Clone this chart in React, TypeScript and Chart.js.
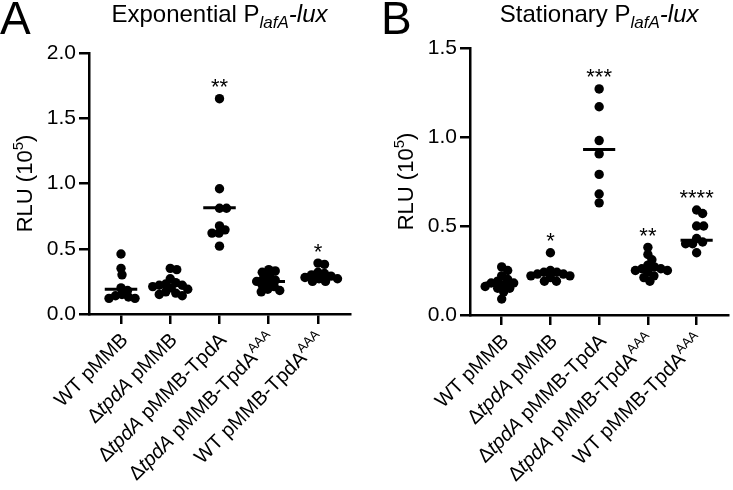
import React, { useEffect, useRef } from 'react';
import { Chart, registerables } from 'chart.js';
Chart.register(...registerables);

const FONT = '"Liberation Sans", Arial, Helvetica, sans-serif';
const H = 490;

// Category labels: *...* = italic, ^... = superscript
const categories = [
  'WT pMMB',
  'Δ*tpdA* pMMB',
  'Δ*tpdA* pMMB-TpdA',
  'Δ*tpdA* pMMB-TpdA^AAA',
  'WT pMMB-TpdA^AAA',
];

// ---- Panel A: Exponential (RLU, 10^5) ----
const expWT = [0.46, 0.35, 0.30, 0.20, 0.18, 0.15, 0.14, 0.13, 0.12, 0.12];
const expDelta = [0.35, 0.34, 0.27, 0.24, 0.23, 0.22, 0.22, 0.21, 0.20, 0.19, 0.17, 0.16, 0.15, 0.14];
const expComp = [1.65, 0.96, 0.81, 0.81, 0.675, 0.645, 0.62, 0.62, 0.52];
const expDeltaAAA = [0.34, 0.33, 0.32, 0.29, 0.27, 0.26, 0.25, 0.24, 0.22, 0.21, 0.19, 0.18, 0.17];
const expWTAAA = [0.39, 0.38, 0.32, 0.31, 0.30, 0.29, 0.28, 0.27, 0.27, 0.25, 0.25];
const expLines = [0.19, 0.22, 0.815, 0.25, 0.29];
const expStars = ['', '', '**', '', '*'];
const expTicks = [0, 0.5, 1.0, 1.5, 2.0];

// ---- Panel B: Stationary (RLU, 10^5) ----
const statWT = [0.27, 0.25, 0.22, 0.20, 0.19, 0.18, 0.18, 0.17, 0.16, 0.15, 0.15, 0.13, 0.09];
const statDelta = [0.35, 0.25, 0.24, 0.24, 0.23, 0.23, 0.22, 0.22, 0.21, 0.19, 0.19];
const statComp = [1.27, 1.17, 0.98, 0.905, 0.79, 0.68, 0.63];
const statDeltaAAA = [0.38, 0.34, 0.31, 0.28, 0.27, 0.26, 0.26, 0.25, 0.25, 0.24, 0.22, 0.21, 0.19];
const statWTAAA = [0.59, 0.57, 0.50, 0.50, 0.43, 0.41, 0.40, 0.40, 0.35];
const statLines = [0.18, 0.235, 0.93, 0.26, 0.42];
const statStars = ['', '*', '***', '**', '****'];
const statTicks = [0, 0.5, 1.0, 1.5];

type Seg = { t: string; font: string; dy: number };

function parseLabel(s: string, size: number): Seg[] {
  const parts = s.split(/(\*[^*]+\*|\^[A-Za-z0-9]+)/).filter((p) => p.length);
  return parts.map((p) => {
    if (p.startsWith('*')) return { t: p.slice(1, -1), font: `italic ${size}px ${FONT}`, dy: 0 };
    if (p.startsWith('^')) return { t: p.slice(1), font: `${Math.round(size * 0.66)}px ${FONT}`, dy: -size * 0.42 };
    return { t: p, font: `${size}px ${FONT}`, dy: 0 };
  });
}

function richWidth(ctx: CanvasRenderingContext2D, segs: Seg[]) {
  let w = 0;
  for (const s of segs) {
    ctx.font = s.font;
    w += ctx.measureText(s.t).width;
  }
  return w;
}

function drawRich(ctx: CanvasRenderingContext2D, segs: Seg[], x: number, y: number, align: 'left' | 'center' | 'right') {
  const w = richWidth(ctx, segs);
  let cx = align === 'left' ? x : align === 'center' ? x - w / 2 : x - w;
  ctx.textAlign = 'left';
  ctx.textBaseline = 'alphabetic';
  for (const s of segs) {
    ctx.font = s.font;
    ctx.fillText(s.t, cx, y + s.dy);
    cx += ctx.measureText(s.t).width;
  }
}

type PanelCfg = {
  letter: string;
  letterX: number;
  titleMain: string;
  groups: number[][];
  lines: number[];
  stars: string[];
  ticks: number[];
  width: number;
  chartLeft: number;
  padRight: number;
  top: number;
  bottom: number;
  yTitleX: number;
};

function Panel({ cfg }: { cfg: PanelCfg }) {
  const ref = useRef<HTMLCanvasElement | null>(null);
  useEffect(() => {
    const canvas = ref.current!;
    const annot = {
      id: 'annot',
      afterDraw(chart: any) {
        const ctx: CanvasRenderingContext2D = chart.ctx;
        const ca = chart.chartArea;
        const xs = chart.scales.x;
        const ys = chart.scales.y;
        ctx.save();
        ctx.fillStyle = '#000';
        // panel letter
        ctx.font = `46px ${FONT}`;
        ctx.textAlign = 'left';
        ctx.textBaseline = 'alphabetic';
        ctx.fillText(cfg.letter, cfg.letterX, 34);
        // title
        drawRich(
          ctx,
          [
            { t: cfg.titleMain + ' P', font: `24px ${FONT}`, dy: 0 },
            { t: 'lafA', font: `italic 17px ${FONT}`, dy: 6 },
            { t: '-lux', font: `italic 24px ${FONT}`, dy: 0 },
          ],
          (ca.left + ca.right) / 2,
          22,
          'center'
        );
        // y title
        ctx.save();
        ctx.translate(cfg.yTitleX, (ca.top + ca.bottom) / 2);
        ctx.rotate(-Math.PI / 2);
        drawRich(
          ctx,
          [
            { t: 'RLU (10', font: `22px ${FONT}`, dy: 0 },
            { t: '5', font: `15px ${FONT}`, dy: -9 },
            { t: ')', font: `22px ${FONT}`, dy: 0 },
          ],
          0,
          0,
          'center'
        );
        ctx.restore();
        // x labels
        categories.forEach((c, i) => {
          const px = xs.getPixelForValue(i);
          ctx.save();
          ctx.translate(px + 8, ca.bottom + 27);
          ctx.rotate(-Math.PI / 4);
          drawRich(ctx, parseLabel(c, 20), 0, 0, 'right');
          ctx.restore();
        });
        // significance stars
        cfg.stars.forEach((s, i) => {
          if (!s) return;
          const px = xs.getPixelForValue(i);
          const top = ys.getPixelForValue(Math.max(...cfg.groups[i]));
          ctx.font = `22px ${FONT}`;
          ctx.textAlign = 'center';
          ctx.textBaseline = 'alphabetic';
          ctx.fillText(s, px, top - 17 + 12.5);
        });
        ctx.restore();
      },
    };

    const lineSets = cfg.lines.map((m, i) => ({
      data: [
        { x: i - 0.33, y: m },
        { x: i + 0.33, y: m },
      ],
      showLine: true,
      borderColor: '#000',
      borderWidth: 3,
      pointRadius: 0,
      pointHoverRadius: 0,
      borderCapStyle: 'butt',
    }));
    const dotSet = {
      data: cfg.groups.flatMap((g, i) => g.map((v) => ({ x: i, y: v }))),
      pointRadius: 4.7,
      pointHoverRadius: 4.7,
      pointBackgroundColor: '#000',
      pointBorderWidth: 0,
      borderWidth: 0,
      showLine: false,
    };
    const gridOpts = { display: true, drawOnChartArea: false, drawTicks: true, tickLength: 10, color: '#000', lineWidth: 2.5 };
    const borderOpts = { display: true, color: '#000', width: 2.5 };
    const yMax = cfg.ticks[cfg.ticks.length - 1];

    const chart = new Chart(canvas, {
      type: 'scatter',
      data: { datasets: [...lineSets, dotSet] as any },
      options: {
        responsive: false,
        animation: false,
        devicePixelRatio: 1,
        events: [],
        layout: { padding: { top: cfg.top, right: cfg.padRight, left: 0, bottom: 0 } },
        plugins: { legend: { display: false }, tooltip: { enabled: false }, title: { display: false } },
        scales: {
          x: {
            type: 'linear',
            min: -0.65,
            max: 4.65,
            afterBuildTicks: (s: any) => {
              s.ticks = categories.map((_, i) => ({ value: i }));
            },
            afterFit: (s: any) => {
              s.height = H - cfg.bottom;
            },
            ticks: { display: false },
            grid: gridOpts,
            border: borderOpts,
          },
          y: {
            type: 'linear',
            min: 0,
            max: yMax,
            afterBuildTicks: (s: any) => {
              s.ticks = cfg.ticks.map((v) => ({ value: v }));
            },
            afterFit: (s: any) => {
              s.width = cfg.chartLeft;
            },
            ticks: {
              callback: (v: any) => Number(v).toFixed(1),
              font: { family: FONT, size: 21 },
              color: '#000',
              padding: 3,
            },
            grid: gridOpts,
            border: borderOpts,
          },
        } as any,
      },
      plugins: [annot],
    });

    // beeswarm layout of dots using the chart's own scales
    const xs: any = chart.scales.x;
    const ys: any = chart.scales.y;
    const unit = xs.getPixelForValue(1) - xs.getPixelForValue(0);
    const D = 6.6;
    const pts: { x: number; y: number }[] = [];
    cfg.groups.forEach((g, i) => {
      const placed: { o: number; py: number }[] = [];
      g.forEach((v) => {
        const py = ys.getPixelForValue(v);
        let off = 0;
        outer: for (let k = 0; k < 400; k++) {
          const signs = k === 0 ? [1] : [1, -1];
          for (const sg of signs) {
            const o = sg * k * 0.5;
            if (placed.every((p) => (o - p.o) ** 2 + (py - p.py) ** 2 >= D * D)) {
              off = o;
              break outer;
            }
          }
        }
        placed.push({ o: off, py });
        pts.push({ x: i + off / unit, y: v });
      });
    });
    (chart.data.datasets[lineSets.length] as any).data = pts;
    chart.update();

    return () => chart.destroy();
  }, []);
  return <canvas ref={ref} width={cfg.width} height={H} style={{ display: 'block', width: cfg.width, height: H }} />;
}

const panelA: PanelCfg = {
  letter: 'A',
  letterX: 0,
  titleMain: 'Exponential',
  groups: [expWT, expDelta, expComp, expDeltaAAA, expWTAAA],
  lines: expLines,
  stars: expStars,
  ticks: expTicks,
  width: 366,
  chartLeft: 89,
  padRight: 16,
  top: 53,
  bottom: 314,
  yTitleX: 32,
};

const panelB: PanelCfg = {
  letter: 'B',
  letterX: 15,
  titleMain: 'Stationary',
  groups: [statWT, statDelta, statComp, statDeltaAAA, statWTAAA],
  lines: statLines,
  stars: statStars,
  ticks: statTicks,
  width: 367,
  chartLeft: 104,
  padRight: 0,
  top: 48,
  bottom: 315,
  yTitleX: 47,
};

export default function App() {
  useEffect(() => {
    document.body.style.margin = '0';
    document.body.style.background = '#fff';
  }, []);
  return (
    <div style={{ display: 'flex', width: 733, height: H, background: '#fff' }}>
      <Panel cfg={panelA} />
      <Panel cfg={panelB} />
    </div>
  );
}
